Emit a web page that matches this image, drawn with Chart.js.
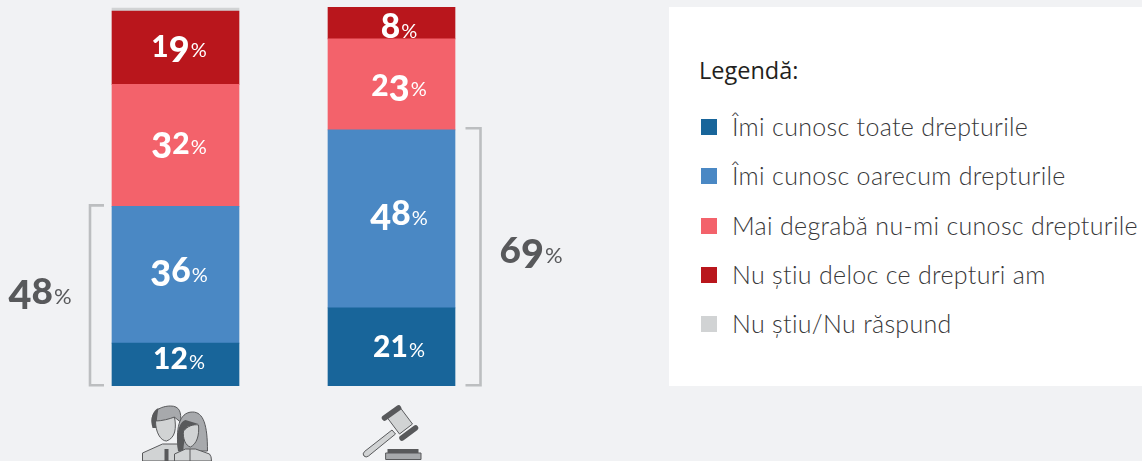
<!DOCTYPE html>
<html lang="ro">
<head>
<meta charset="utf-8">
<title>Legendă</title>
<script src="https://cdn.jsdelivr.net/npm/chart.js@4"></script>
<style>
    html, body { margin: 0; padding: 0; background: #f1f2f4; }
    #wrap { position: relative; width: 1142px; height: 461px; overflow: hidden; }
    #chart { position: absolute; left: 0; top: 0; }
    #legendPanel { position: absolute; left: 669px; top: 7px; width: 473px; height: 379px; background: #fff; }
    #legendTitle { position: absolute; left: 30px; top: 47px; font: 500 23.5px "Open Sans", sans-serif; color: #231f20; white-space: nowrap; }
    #legendList { position: absolute; left: 32px; top: 95px; }
    .legendRow { position: relative; height: 49.25px; white-space: nowrap; font: 300 25px Lato, sans-serif; letter-spacing: 0.31px; color: #38383a; }
    .legendBox { position: absolute; left: 0; top: 17px; width: 16px; height: 16px; }
    .legendText { position: absolute; left: 31px; top: 9px; line-height: 30px; }
</style>
</head>
<body>
<div id="wrap">
    <canvas id="chart" width="1142" height="461"></canvas>
    <div id="legendPanel">
        <div id="legendTitle">Legendă:</div>
        <div id="legendList"></div>
    </div>
</div>
<script>
// Data
const categories = ['oameni', 'ciocan'];
const seriesNames = [
    'Îmi cunosc toate drepturile',
    'Îmi cunosc oarecum drepturile',
    'Mai degrabă nu-mi cunosc drepturile',
    'Nu știu deloc ce drepturi am',
    'Nu știu/Nu răspund'
];
// bar heights as measured on the picture
const toateValues = [11.3, 20.6];
const oarecumValues = [36.1, 47.0];
const degrabaValues = [32.2, 24.0];
const delocValues = [19.3, 8.4];
const nuStiuValues = [0.8, 0];
// percentages as printed on the bars
const toateLabels = [12, 21];
const oarecumLabels = [36, 48];
const degrabaLabels = [32, 23];
const delocLabels = [19, 8];
const totals = [48, 69];

const seriesColors = ['#18659a', '#4a88c4', '#f3626b', '#b9161c', '#d1d3d4'];
const printedLabels = [toateLabels, oarecumLabels, degrabaLabels, delocLabels];

const GREY_TEXT = '#58595b';
const BRACKET = '#bcbec0';
const NUMBER_FONT = 'Lato, sans-serif';

// Small corrections so labels sit where the original has them: [bar][segment]
const labelNudgeY = [[-6.7, -3.7, -2.2, -1.2], [-1.2, -4.2, 1.3, 3.8]];
const labelNudgeX = [3, 7];

// The original uses old-style figures; no installed font has them by default,
// so 3 4 5 7 9 get bigger and hang below the baseline, and 6 8 grow a bit
function digitStyle(digit, size) {
    if ('34579'.includes(digit)) return { size: size * 1.2, drop: size * 0.144 };
    if ('68'.includes(digit)) return { size: size * 1.12, drop: 0 };
    return { size: size, drop: 0 };
}

function drawPercent(ctx, value, x, y, color, size, weight) {
    const digits = String(value).split('');
    const pctSize = Math.round(size * 0.68);
    ctx.fillStyle = color;
    ctx.textBaseline = 'alphabetic';
    ctx.textAlign = 'left';

    const widths = digits.map(d => {
        ctx.font = `${weight} ${digitStyle(d, size).size}px ${NUMBER_FONT}`;
        return ctx.measureText(d).width;
    });
    const numWidth = widths.reduce((a, b) => a + b, 0);
    ctx.font = `400 ${pctSize}px ${NUMBER_FONT}`;
    const pctWidth = ctx.measureText('%').width;

    let left = x - (numWidth + pctWidth) / 2;
    const baseline = y + size * 0.36;
    digits.forEach((d, i) => {
        const style = digitStyle(d, size);
        ctx.font = `${weight} ${style.size}px ${NUMBER_FONT}`;
        ctx.fillText(d, left, baseline + style.drop);
        left += widths[i];
    });
    ctx.font = `400 ${pctSize}px ${NUMBER_FONT}`;
    ctx.fillText('%', left + 1, baseline);
}

function drawBracket(ctx, xInner, xOuter, yTop, yBottom) {
    ctx.strokeStyle = BRACKET;
    ctx.lineWidth = 2.6;
    ctx.beginPath();
    ctx.moveTo(xInner, yTop);
    ctx.lineTo(xOuter, yTop);
    ctx.lineTo(xOuter, yBottom);
    ctx.lineTo(xInner, yBottom);
    ctx.stroke();
}

function shape(ctx, path, fill, stroke) {
    const p = new Path2D(path);
    if (fill) {
        ctx.fillStyle = fill;
        ctx.fill(p);
    }
    if (stroke) {
        ctx.strokeStyle = stroke;
        ctx.lineWidth = 1;
        ctx.stroke(p);
    }
}

// Icons are relative to the bar centre
function drawPeopleIcon(ctx, cx) {
    ctx.save();
    ctx.translate(cx, 0);
    const light = '#d1d3d4', mid = '#a7a9ac', dark = '#58595b';
    // man, behind
    shape(ctx, 'M-33 461 L-33 453 L-13 444 L4 444 L10 450 L10 461 Z', light, dark);
    shape(ctx, 'M-23 424 C-26 411 -14 406 -5 406 C4 406 6 412 5 422 L0 418 L-19 424 Z', mid, dark);
    shape(ctx, 'M-23 428 C-26 418 -22 410 -17 408 C-18 414 -19 420 -19 428 Z', dark, null);
    shape(ctx, 'M-20 421 C-14 421 -6 419 -1 417 C1 428 0 438 -9 441 C-15 441 -20 432 -20 421 Z', light, dark);
    ctx.fillStyle = dark;
    ctx.fillRect(-11, 449, 4, 12);
    // woman, in front
    shape(ctx, 'M3 451 C0 430 3 412 17 412 C28 412 32 425 32 451 Z', mid, dark);
    shape(ctx, 'M3 451 C0 436 3 422 10 420 L23 424 C12 424 8 440 8 451 Z', dark, null);
    shape(ctx, 'M8 431 C12 426 18 424 23 425 C24 436 21 444 15 447 C10 446 7 438 8 431 Z', light, dark);
    shape(ctx, 'M-1 461 L-1 454 L10 449 L20 449 L34 454 Q36 456 36 461 Z', light, dark);
    shape(ctx, 'M14.5 449 L14.5 461', null, dark);
    ctx.restore();
}

function drawGavelIcon(ctx, cx) {
    ctx.save();
    ctx.translate(cx, 0);
    const light = '#d1d3d4', mid = '#a7a9ac', dark = '#58595b';
    // handle
    shape(ctx, 'M0.5 430 L-27 451.5 Q-29.5 454 -27.5 456 Q-25.5 458 -23 456 L4 434 Z', light, dark);
    // head
    shape(ctx, 'M-4 418 L9 408 L21 424 L8 434 Z', light, dark);
    ctx.strokeStyle = dark;
    ctx.lineWidth = 5.5;
    ctx.lineCap = 'round';
    ctx.beginPath();
    ctx.moveTo(-7, 418);
    ctx.lineTo(7, 408);
    ctx.moveTo(10.5, 438);
    ctx.lineTo(24, 428);
    ctx.stroke();
    // block
    ctx.fillStyle = dark;
    ctx.fillRect(-4, 449, 31, 4);
    shape(ctx, 'M-5.5 453 H29.5 V459.5 H-5.5 Z', mid, dark);
    ctx.restore();
}

const annotationPlugin = {
    id: 'annotations',
    afterDatasetsDraw(chart) {
        const ctx = chart.ctx;
        ctx.save();
        printedLabels.forEach((labels, s) => {
            const meta = chart.getDatasetMeta(s);
            labels.forEach((value, b) => {
                const bar = meta.data[b];
                const y = (bar.y + bar.base) / 2 + labelNudgeY[b][s];
                drawPercent(ctx, value, bar.x + labelNudgeX[b], y, '#ffffff', 30, 900);
            });
        });

        const leftBar = chart.getDatasetMeta(1).data[0];
        const rightBar = chart.getDatasetMeta(1).data[1];
        const bottom = chart.scales.y.getPixelForValue(0) - 0.7;
        drawBracket(ctx, leftBar.x - 71.5, leftBar.x - 85.5, leftBar.y - 1, bottom);
        drawBracket(ctx, rightBar.x + 74, rightBar.x + 89, rightBar.y - 1.5, bottom);
        drawPercent(ctx, totals[0], leftBar.x - 136, 292, GREY_TEXT, 33, 900);
        drawPercent(ctx, totals[1], rightBar.x + 139, 251.5, GREY_TEXT, 33, 900);

        drawPeopleIcon(ctx, leftBar.x);
        drawGavelIcon(ctx, rightBar.x);
        ctx.restore();
    }
};

function buildLegend() {
    const list = document.getElementById('legendList');
    seriesNames.forEach((name, i) => {
        const row = document.createElement('div');
        row.className = 'legendRow';
        const box = document.createElement('span');
        box.className = 'legendBox';
        box.style.background = seriesColors[i];
        const text = document.createElement('span');
        text.className = 'legendText';
        text.innerText = name;
        row.appendChild(box);
        row.appendChild(text);
        list.appendChild(row);
    });
}

function initializeChart() {
    const seriesValues = [toateValues, oarecumValues, degrabaValues, delocValues, nuStiuValues];
    new Chart(document.getElementById('chart').getContext('2d'), {
        type: 'bar',
        data: {
            labels: categories,
            datasets: seriesValues.map((values, i) => ({
                label: seriesNames[i],
                data: values,
                backgroundColor: seriesColors[i],
                borderWidth: 0,
                barThickness: 127
            }))
        },
        options: {
            responsive: false,
            animation: false,
            layout: { padding: { left: 67.5, right: 642.5, top: 7, bottom: 75 } },
            scales: {
                x: { stacked: true, display: false },
                y: { stacked: true, display: false, min: 0, max: 100 }
            },
            plugins: {
                legend: { display: false },
                tooltip: { enabled: false }
            }
        },
        plugins: [annotationPlugin]
    });
}

buildLegend();
initializeChart();
</script>
</body>
</html>
